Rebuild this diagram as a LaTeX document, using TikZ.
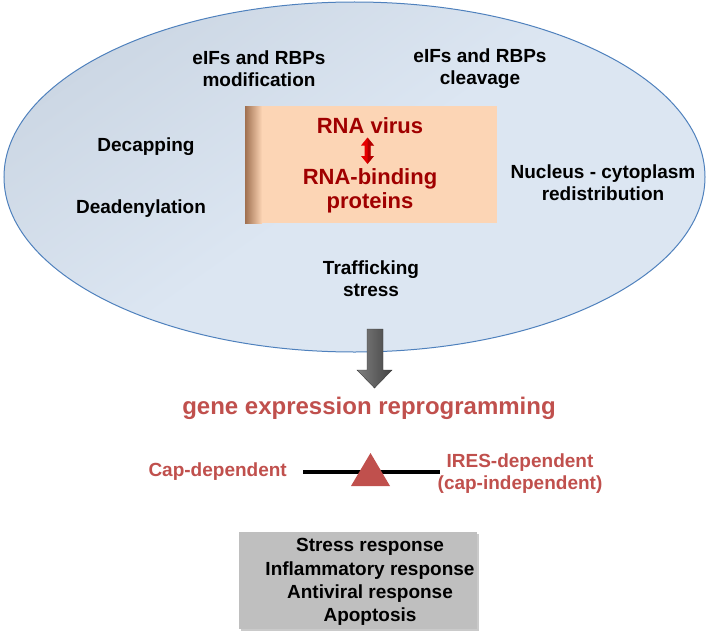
\documentclass[tikz,border=0pt]{standalone}
\usepackage{fontspec}
\setmainfont{Liberation Sans}
\usetikzlibrary{shadows}
\definecolor{ellfill}{RGB}{220,230,242}
\definecolor{elldark}{RGB}{204,215,228}
\definecolor{ellline}{RGB}{79,129,189}
\definecolor{peach}{RGB}{252,213,181}
\definecolor{brownedge}{RGB}{160,112,80}
\definecolor{darkred}{RGB}{160,0,0}
\definecolor{brightred}{RGB}{230,0,0}
\definecolor{softred}{RGB}{192,80,77}
\definecolor{boxgray}{RGB}{191,191,191}
\definecolor{arrowgray}{RGB}{96,96,96}
\tikzset{
  lbl/.style={align=center, inner sep=0pt, font=\fontsize{19}{22}\selectfont\bfseries, text=black},
  redlbl/.style={align=center, inner sep=0pt, font=\fontsize{22}{25}\selectfont\bfseries, text=darkred},
  pinklbl/.style={align=center, inner sep=0pt, font=\fontsize{19}{22}\selectfont\bfseries, text=softred},
}
\begin{document}
\begin{tikzpicture}[x=1pt,y=-1pt]
\useasboundingbox (0,0) rectangle (709,634);
% ellipse
\shade[top color=elldark, bottom color=ellfill, middle color=ellfill, shading angle=35]
  (354.5,177) ellipse [x radius=350.5, y radius=175];
\draw[ellline, line width=1pt] (354.5,177) ellipse [x radius=350.5, y radius=175];
% central box
\fill[peach] (245,106) rectangle (497,223);
\shade[left color=brownedge, right color=peach] (245,106) rectangle (262,223);
\node[redlbl] (virus) at (370,126) {RNA virus};
\node[redlbl] (rbp) at (370,191) {RNA-binding\\[-1pt]proteins};
% red double arrow
\fill[brightred] (367.5,137.5) -- (374,145.5) -- (370.5,145.5) -- (370.5,156) -- (374,156)
  -- (367.5,164) -- (361,156) -- (364.5,156) -- (364.5,145.5) -- (361,145.5) -- cycle;
\fill[darkred!80!black, opacity=0.5] (367.5,137.5) -- (374,145.5) -- (370.5,145.5) -- (370.5,156) -- (374,156)
  -- (367.5,164) -- cycle;
% labels in the ellipse
\node[lbl] (mod) at (259,69) {eIFs and RBPs\\modification};
\node[lbl] (clv) at (480,69) {eIFs and RBPs\\cleavage};
\node[lbl] (decap) at (146,147) {Decapping};
\node[lbl] (dead) at (141,209) {Deadenylation};
\node[lbl] (nuc) at (603,183) {Nucleus - cytoplasm\\redistribution};
\node[lbl] (traf) at (371,279) {Trafficking\\stress};
% big gray arrow
\shade[left color=arrowgray!80!white, right color=arrowgray!70!black, draw=arrowgray!60!black, line width=0.4pt]
  (367,329) -- (383,329) -- (383,370) -- (392,370) -- (374.5,388) -- (357,370) -- (367,370) -- cycle;
% gene expression reprogramming
\node[align=center, inner sep=0pt, font=\fontsize{24}{28}\selectfont\bfseries, text=softred] (gene) at (369,408) {gene expression reprogramming};
% balance
\coordinate (bl) at (303,472);
\coordinate (br) at (440,472);
\draw[black, line width=4pt] (bl) -- (br);
\fill[softred] (370.5,453) -- (390,486) -- (351,486) -- cycle;
\node[pinklbl, anchor=east] (cap) at (287,472) {Cap-dependent};
\node[pinklbl] (ires) at (520,474) {IRES-dependent\\(cap-independent)};
% bottom box
\fill[black!35, opacity=0.6] (241,534) rectangle (479,631);
\fill[boxgray] (239,532) rectangle (477,629);
\node[align=center, inner sep=0pt, font=\fontsize{19}{23.3}\selectfont\bfseries] (resp) at (370,582)
  {Stress response\\Inflammatory response\\Antiviral response\\Apoptosis};
\end{tikzpicture}
\end{document}
